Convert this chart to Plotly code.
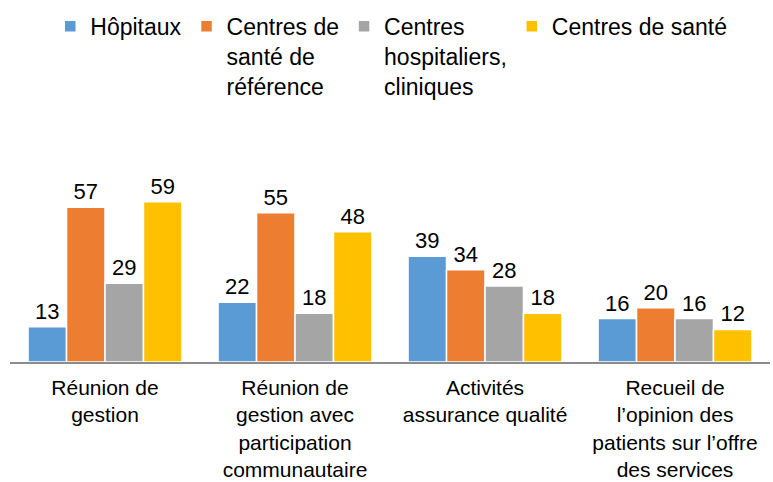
import plotly.graph_objects as go

categories = [
    "Réunion de<br>gestion",
    "Réunion de<br>gestion avec<br>participation<br>communautaire",
    "Activités<br>assurance qualité",
    "Recueil de<br>l’opinion des<br>patients sur l’offre<br>des services",
]
series_names = [
    "Hôpitaux",
    "Centres de<br>santé de<br>référence",
    "Centres<br>hospitaliers,<br>cliniques",
    "Centres de santé",
]
hopitaux = [13, 22, 39, 16]
csref = [57, 55, 34, 20]
hospitaliers = [29, 18, 28, 16]
sante = [59, 48, 18, 12]
values = [hopitaux, csref, hospitaliers, sante]
colors = ["#5B9BD5", "#ED7D31", "#A5A5A5", "#FFC000"]

FONT = "Liberation Sans, Arial, sans-serif"

fig = go.Figure()
for name, vals, col in zip(series_names, values, colors):
    fig.add_trace(go.Bar(
        x=categories, y=vals, name=name,
        marker=dict(color=col, line=dict(color="white", width=1.5)),
        text=[str(v) for v in vals], textposition="outside",
        textfont=dict(size=22, color="black", family=FONT),
        cliponaxis=False,
    ))

fig.update_layout(
    width=773, height=482,
    margin=dict(l=10, r=3, t=172, b=120, autoexpand=False),
    paper_bgcolor="white", plot_bgcolor="white",
    font=dict(family=FONT, size=23, color="black"),
    barmode="group", bargap=0.19, bargroupgap=0,
    showlegend=True,
    legend=dict(orientation="h", x=0.053, y=0.99, yref="container", xanchor="left", yanchor="top",
                valign="top", font=dict(size=23, color="black"),
                itemwidth=30, traceorder="normal", tracegroupgap=0),
    xaxis=dict(showline=True, linecolor="#8C8C8C", linewidth=1.5, ticks="",
               automargin=False, ticklabelstandoff=6,
               tickfont=dict(size=21, color="black")),
    yaxis=dict(range=[0, 70], visible=False, automargin=False),
)
fig.write_html("out.html", config={"displayModeBar": False},
               post_script="document.body.style.margin='0';document.body.style.padding='0';")
